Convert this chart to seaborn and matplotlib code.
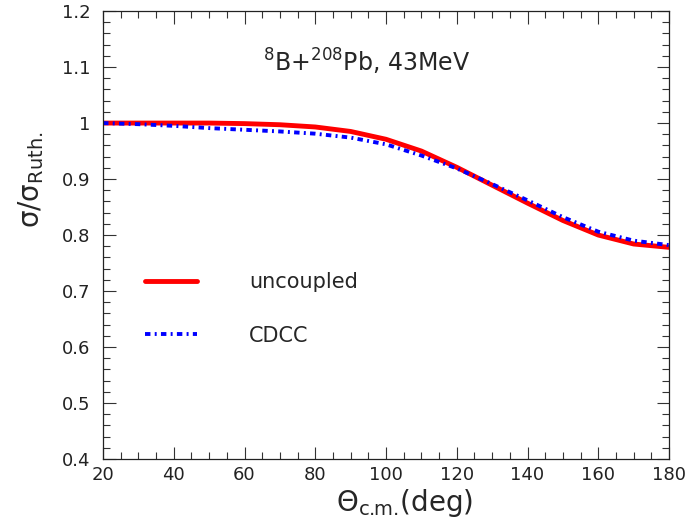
import numpy as np
import pandas as pd
import matplotlib
matplotlib.use("Agg")
import matplotlib.pyplot as plt
from matplotlib.ticker import MultipleLocator
import seaborn as sns

# Elastic cross section ratio to Rutherford, 8B + 208Pb at 43 MeV
theta = [20, 30, 40, 50, 60, 70, 80, 90, 100, 110, 120, 130, 140, 150, 160, 170, 180]
uncoupled = [1.000, 1.000, 1.000, 1.000, 0.999, 0.997, 0.993, 0.985, 0.971,
             0.950, 0.921, 0.889, 0.857, 0.826, 0.800, 0.784, 0.778]
cdcc = [1.000, 0.998, 0.995, 0.991, 0.988, 0.985, 0.981, 0.974, 0.962,
        0.942, 0.919, 0.891, 0.862, 0.832, 0.806, 0.790, 0.782]
series_names = ["uncoupled", "CDCC"]

xticks = [20, 40, 60, 80, 100, 120, 140, 160, 180]
yticks = [0.4, 0.5, 0.6, 0.7, 0.8, 0.9, 1.0, 1.1, 1.2]
ytick_labels = ["0.4", "0.5", "0.6", "0.7", "0.8", "0.9", "1", "1.1", "1.2"]

sns.set_theme(style="ticks")
plt.rcParams["font.family"] = ["DejaVu Sans"]
plt.rcParams["mathtext.fontset"] = "dejavusans"

df = pd.DataFrame({
    "theta": theta * 2,
    "ratio": uncoupled + cdcc,
    "model": [series_names[0]] * len(theta) + [series_names[1]] * len(theta),
})

fig = plt.figure(figsize=(6.9, 5.27), dpi=100)
ax = fig.add_axes([0.1493, 0.129, 0.8203, 0.850])

sns.lineplot(data=df[df.model == "uncoupled"], x="theta", y="ratio",
             color="#ff0000", lw=3.5, ax=ax, label="uncoupled")
sns.lineplot(data=df[df.model == "CDCC"], x="theta", y="ratio",
             color="#0000ff", lw=2.8, ax=ax, label="CDCC",
             linestyle=(0, (1.4, 1.1, 0.5, 1.1)))

ax.set_xlim(20, 180)
ax.set_ylim(0.4, 1.2)
ax.set_xticks(xticks)
ax.set_yticks(yticks)
ax.set_yticklabels(ytick_labels)
ax.xaxis.set_minor_locator(MultipleLocator(5))
ax.yaxis.set_minor_locator(MultipleLocator(0.02))
ax.tick_params(which="both", direction="in", top=True, right=True,
               labelsize=13, colors="#333333", labelcolor="#222222", width=0.8)
ax.tick_params(which="major", length=9)
ax.tick_params(which="minor", length=5)
ax.tick_params(axis="x", pad=5)
ax.tick_params(axis="y", pad=9)
for s in ax.spines.values():
    s.set_linewidth(0.9)
    s.set_color("#222222")

ax.set_xlabel(r"$\Theta_{\text{c.m.}}$(deg)", fontsize=20)
ax.xaxis.set_label_coords(0.532, -0.062)
ax.set_ylabel(r"$\mathrm{σ/σ_{Ruth.}}$", fontsize=20)
ax.yaxis.set_label_coords(-0.100, 0.623)

ax.text(0.466, 0.886, r"$^{8}$B+$^{208}$Pb, 43MeV", transform=ax.transAxes,
        ha="center", va="center", fontsize=17)

ax.legend(loc="center left", bbox_to_anchor=(0.074, 0.335), frameon=False,
          fontsize=15, handlelength=2.5, handletextpad=2.5, labelspacing=1.6,
          borderpad=0, borderaxespad=0)

fig.savefig("out.png", dpi=100)
